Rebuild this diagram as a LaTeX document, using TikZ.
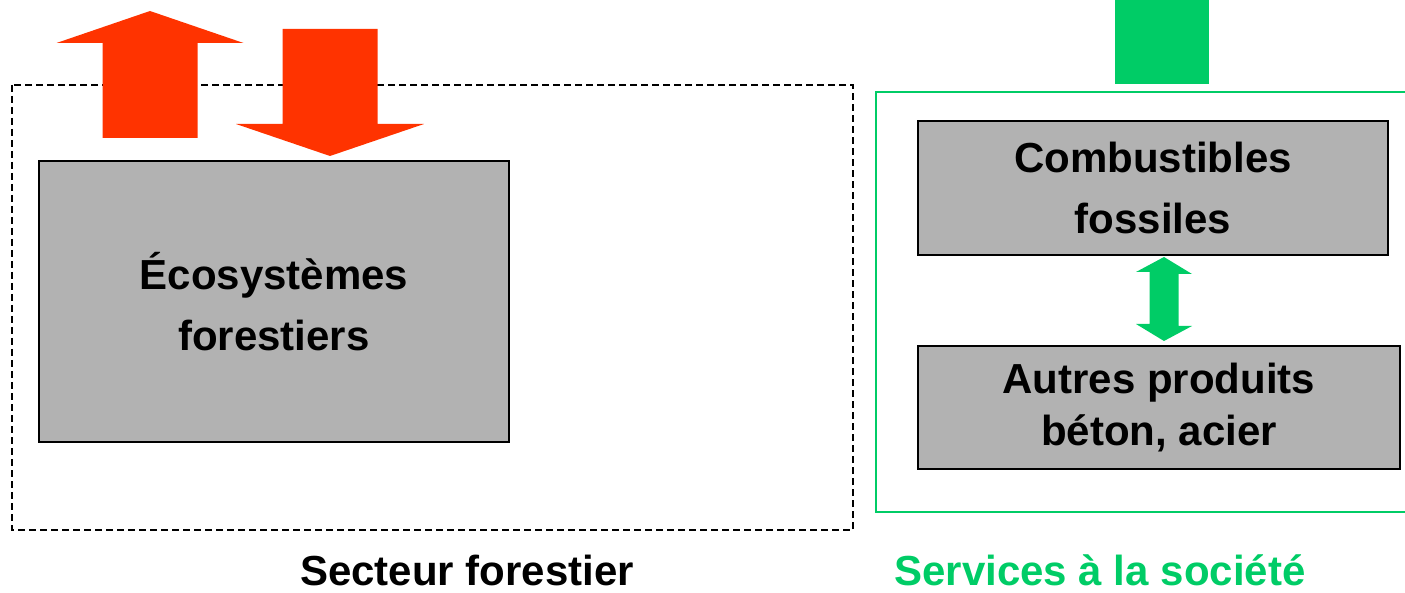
\documentclass[tikz,border=0pt]{standalone}
\usepackage{fontspec}
\setmainfont{Liberation Sans}
\usepackage{tikz}
\usetikzlibrary{calc,positioning}

\definecolor{rougefleche}{HTML}{FF3300}
\definecolor{vertfleche}{HTML}{00CC66}
\definecolor{grisboite}{HTML}{B2B2B2}

\begin{document}
\begin{tikzpicture}[x=1pt,y=-1pt,
	boite/.style={draw=black,line width=2pt,fill=grisboite,align=center,font=\fontsize{42}{61}\selectfont\bfseries},
	titre/.style={anchor=base,font=\fontsize{42}{50}\selectfont\bfseries}]
	\useasboundingbox (0,0) rectangle (1405,593);
	
	\draw[dash pattern=on 7pt off 4pt,line width=1.5pt] (12,85) rectangle (853,530);
	\draw[vertfleche,line width=2pt] (876,92) rectangle (1420,512);
	
	\node[boite,minimum width=470,minimum height=281] (eco) at (274,301.5) {Écosystèmes\\forestiers};
	\node[boite,minimum width=470,minimum height=134] (comb) at (1153,188) {Combustibles\\fossiles};
	\node[boite,minimum width=482,minimum height=123,font=\fontsize{42}{52}\selectfont\bfseries] (autres) at (1159,407.5) {Autres produits\\béton, acier};
	
	% fleches rouges
	\coordinate (sortie) at (150,11);
	\coordinate (entree) at (330,156);
	\fill[rougefleche] (sortie) -- ++(93.5,32) -- ++(-46,0) -- ++(0,95) -- ++(-95,0) -- ++(0,-95) -- ++(-46,0) -- cycle;
	\fill[rougefleche] (entree) -- ++(94,-32) -- ++(-46.5,0) -- ++(0,-95) -- ++(-95,0) -- ++(0,95) -- ++(-46.5,0) -- cycle;
	
	\fill[vertfleche] (1115,0) rectangle (1209,84);
	
	\coordinate (hautfl) at ($(comb.south)+(11,1)$);
	\coordinate (basfl) at ($(autres.north)+(5,-4)$);
	\fill[vertfleche] (hautfl) -- ++(28,17) -- ++(-13.5,0) -- ++(0,52) -- ++(13.5,0) -- (basfl) -- ++(-28,-17) -- ++(13.5,0) -- ++(0,-52) -- ++(-13.5,0) -- cycle;
	
	\node[titre] (secteur) at (467,585) {Secteur forestier};
	\node[titre,text=vertfleche] (services) at (1100,585) {Services à la société};
\end{tikzpicture}
\end{document}
